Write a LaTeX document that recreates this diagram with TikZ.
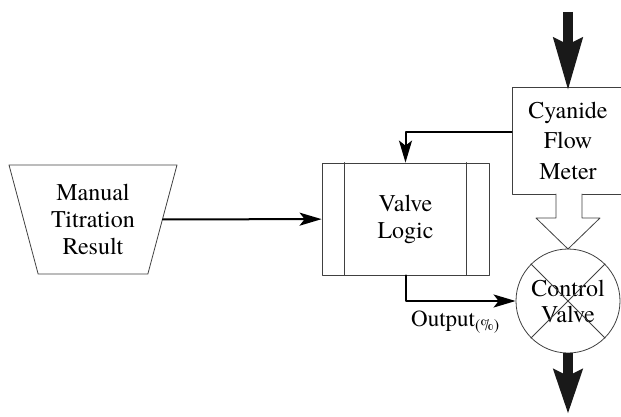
\documentclass[tikz,border=0pt]{standalone}
\usepackage{fontspec}
\setmainfont{texgyretermes}[Extension=.otf,UprightFont=*-regular]
\newfontfamily\labelfont{texgyretermes}[Extension=.otf,UprightFont=*-regular]
\usetikzlibrary{arrows.meta,calc,positioning,shapes.geometric}

\begin{document}
\begin{tikzpicture}[x=1pt,y=-1pt,line cap=round,line join=round,
  box/.style={draw=black!75,line width=.8pt,align=center,inner sep=2pt,
    font=\labelfont\fontsize{24}{27}\selectfont},
  link/.style={line width=2pt,-{Stealth[length=22pt,width=13pt,inset=5pt]}},
  flow/.style={line width=10pt,black!90,line cap=butt}]
\useasboundingbox(0,0)rectangle(621,417);
% blocks
\node[box,trapezium,shape border rotate=180,trapezium angle=72.7,
  trapezium stretches=true,minimum width=168,minimum height=109]
  (titr)at(93,219.5){Manual\\Titration\\Result};
\node[box,minimum width=167,minimum height=112](logic)at(405.5,219){Valve\\Logic};
\draw[black!75,line width=.8pt]
  ([xshift=23]logic.north west)--([xshift=23]logic.south west)
  ([xshift=-23]logic.north east)--([xshift=-23]logic.south east);
\node[box,font=\labelfont\fontsize{24}{30.5}\selectfont,minimum width=112,minimum height=107]
  (meter)at(568,140.5){Cyanide\\Flow\\Meter};
\node[box,circle,minimum size=104,inner sep=0pt,
  font=\labelfont\fontsize{24}{26}\selectfont](valve)at(568,301){Control\\Valve};
\draw[black!75,line width=.8pt]
  (valve.north west)--(valve.south east) (valve.north east)--(valve.south west);
% hollow arrow from the meter into the valve
\fill[white](556,193)--(556,218)--(536,218)--(568,249)--(600,218)--(582,218)--(582,193)--cycle;
\draw[black!75,line width=.8pt]
  (556,194)--(556,218)--(536,218)--(568,249)--(600,218)--(582,218)--(582,194);
% signal lines
\draw[link](titr)--(logic);
\draw[link]([yshift=8.5]meter.west)-|(logic.north);
\draw[link](logic.south)|-(valve.west);
\node[anchor=north west,inner sep=0pt,font=\labelfont\fontsize{23}{26}\selectfont]
  (outlbl)at(411,311){Output\textsubscript{(\%)}};
% main cyanide stream
\coordinate(inflow)at(568,12);
\coordinate(outflow)at(568,414);
\draw[flow,-{Stealth[length=52pt,width=28pt,inset=6pt]}](inflow)--([yshift=-4]meter.north);
\draw[flow,-{Stealth[length=44pt,width=28pt,inset=6pt]}](valve.south)--(outflow);
\end{tikzpicture}
\end{document}
